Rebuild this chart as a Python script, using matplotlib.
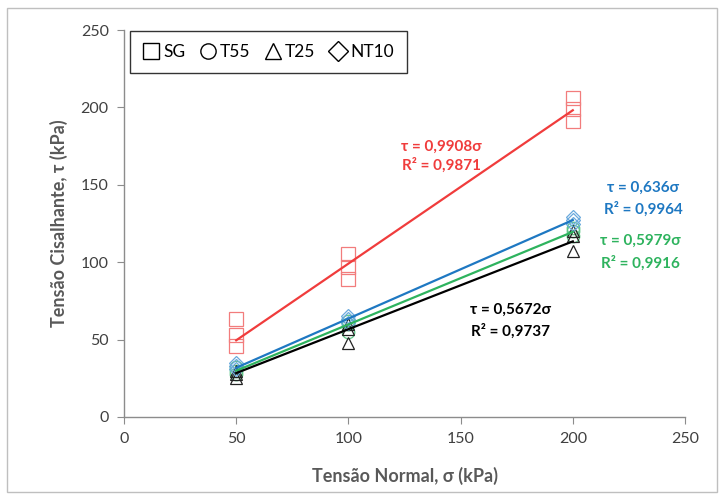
import matplotlib
matplotlib.use("Agg")
import matplotlib.pyplot as plt
from matplotlib.lines import Line2D
from matplotlib.patches import Rectangle
import numpy as np

plt.rcParams['font.family'] = ['Lato', 'DejaVu Sans']

# Data
sigma = [50, 100, 200]
sg = [[63, 53, 46], [105, 97, 89], [206, 199, 191]]
t55 = [[28, 30, 32], [55, 60, 62], [117, 120, 122]]
t25 = [[25, 28, 30], [48, 57, 60], [107, 117, 120]]
nt10 = [[31, 33, 35], [61, 63, 65], [125, 127, 129]]

series_names = ["SG", "T55", "T25", "NT10"]
slopes = [0.9908, 0.5979, 0.5672, 0.636]
r2 = [0.9871, 0.9916, 0.9737, 0.9964]
eq_text = ["τ = 0,9908σ", "τ = 0,5979σ", "τ = 0,5672σ", "τ = 0,636σ"]
r2_text = ["R² = 0,9871", "R² = 0,9916", "R² = 0,9737", "R² = 0,9964"]

xticks = [0, 50, 100, 150, 200, 250]
yticks = [0, 50, 100, 150, 200, 250]

line_colors = ["#F03C3C", "#2EB35E", "#000000", "#1E78C2"]
mk_colors = ["#F27C7C", "#5CC585", "#222222", "#6AAADD"]
markers = ["s", "o", "^", "D"]
msizes = [10, 9, 9, 7]
data = [sg, t55, t25, nt10]

fig = plt.figure(figsize=(7.22, 4.95), dpi=100)
ax = fig.add_axes([124/722, 1-417/495, 561/722, 387/495])

for d, mk, mc, ms in zip(data, markers, mk_colors, msizes):
    for xv, ys in zip(sigma, d):
        ax.plot([xv]*len(ys), ys, linestyle='none', marker=mk, markersize=ms,
                markerfacecolor='none', markeredgecolor=mc, markeredgewidth=0.9, zorder=2)

xfit = np.array([min(sigma), max(sigma)])
for s, c in zip(slopes, line_colors):
    ax.plot(xfit, s*xfit, color=c, lw=1.6, zorder=3)

ax.set_xlim(0, 250)
ax.set_ylim(0, 250)
ax.set_xticks(xticks)
ax.set_yticks(yticks)
for sp in ['top', 'right']:
    ax.spines[sp].set_visible(False)
for sp in ['left', 'bottom']:
    ax.spines[sp].set_color('#8C8C8C')
    ax.spines[sp].set_linewidth(1.0)
ax.tick_params(direction='out', length=5, color='#8C8C8C', labelsize=11.5,
               labelcolor='#404040', pad=6)

ax.set_xlabel("Tensão Normal, σ (kPa)", fontsize=13, fontweight='bold', color='#595959', labelpad=15)
ax.set_ylabel("Tensão Cisalhante, τ (kPa)", fontsize=13, fontweight='bold', color='#595959', labelpad=8)
ax.yaxis.set_label_coords(-(124-68)/561, 0.5)

# annotations (positions in figure pixels -> data)
def px2data(px, py):
    return (px-124)/561*250, (417-py)/387*250

ann = [(441, 147, 165, 0), (640, 241, 263, 1), (510, 310, 331, 2), (643, 188, 209, 3)]
for px, py1, py2, i in ann:
    x1, y1 = px2data(px, py1)
    x2, y2 = px2data(px, py2)
    ax.text(x1, y1, eq_text[i], color=line_colors[i], fontsize=11, fontweight='bold',
            ha='center', va='center')
    ax.text(x2, y2, r2_text[i], color=line_colors[i], fontsize=11, fontweight='bold',
            ha='center', va='center')

handles = [Line2D([], [], linestyle='none', marker=m, markersize=ms, markerfacecolor='none',
                  markeredgecolor='black', markeredgewidth=1.0)
           for m, ms in zip(markers, [11, 11, 11, 10])]
leg = fig.legend(handles, series_names, loc='upper left', ncol=4,
                 bbox_to_anchor=(130/722, 1-31/495), fontsize=12.5, frameon=True,
                 fancybox=False, edgecolor='black', handlelength=0.9, handletextpad=0.25,
                 columnspacing=0.85, borderpad=0.75, borderaxespad=0)
leg.get_frame().set_linewidth(1.0)

fig.patches.append(Rectangle((7/722, 3/495), 710/722, 484/495, transform=fig.transFigure,
                             fill=False, edgecolor='#BFBFBF', lw=1.0))

fig.savefig("out.png", dpi=100)
